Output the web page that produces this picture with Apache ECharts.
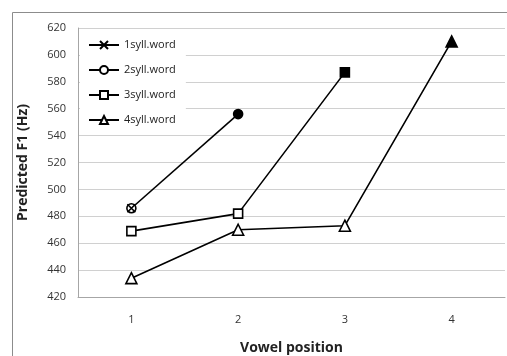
<!DOCTYPE html>
<html>
<head>
<meta charset="utf-8">
<script src="https://cdn.jsdelivr.net/npm/echarts@6/dist/echarts.min.js"></script>
<style>
  html, body { margin: 0; padding: 0; background: #fff; }
  #main { width: 507px; height: 356px; }
</style>
</head>
<body>
<div id="main"></div>
<script>
// vowel positions (x categories)
var positions = ['1', '2', '3', '4'];
// predicted F1 per word length, null where the word has no such vowel
var syll1 = [486, null, null, null];
var syll2 = [486, 556, null, null];
var syll3 = [469, 482, 587, null];
var syll4 = [434, 470, 473, 610];
var seriesNames = ['1syll.word', '2syll.word', '3syll.word', '4syll.word'];
var yTicks = { min: 420, max: 620, step: 20 };

var crossPath = 'path://M0,0L10,10M10,0L0,10';

// last vowel of each word gets a filled marker
function withFilledLast(arr) {
    var last = -1;
    arr.forEach(function (v, i) { if (v !== null) last = i; });
    return arr.map(function (v, i) {
        if (v === null) return null;
        if (i === last && last > 0) return { value: v, itemStyle: { color: '#000' } };
        return v;
    });
}

function makeSeries(name, arr, symbol, size, z) {
    return {
        name: name,
        type: 'line',
        data: withFilledLast(arr),
        symbol: symbol,
        symbolSize: size,
        showAllSymbol: true,
        connectNulls: false,
        z: z,
        lineStyle: { color: '#000', width: 1.6 },
        itemStyle: { color: '#fff', borderColor: '#000', borderWidth: 1.6 },
        emphasis: { disabled: true }
    };
}

var chart = echarts.init(document.getElementById('main'));
var option = {
    animation: false,
    backgroundColor: '#fff',
    textStyle: { fontFamily: '"Open Sans", sans-serif' },
    graphic: [{
        type: 'rect',
        left: 10, top: 10,
        shape: { width: 520, height: 370 },
        style: { fill: 'none', stroke: '#8c8c8c', lineWidth: 1 },
        z: -10
    }],
    grid: { left: 78, right: 2, top: 28, bottom: 59, outerBoundsMode: 'none' },
    legend: {
        orient: 'vertical',
        left: 80, top: 30,
        padding: [8, 10, 8, 8],
        backgroundColor: '#fff',
        itemWidth: 30, itemHeight: 10, itemGap: 11,
        textStyle: { fontSize: 11, color: '#222', lineHeight: 14 },
        data: seriesNames
    },
    xAxis: {
        type: 'category',
        data: positions,
        boundaryGap: true,
        name: 'Vowel position',
        nameLocation: 'middle',
        nameGap: 44,
        nameTextStyle: { fontSize: 14, fontWeight: 'bold', color: '#222' },
        axisLine: { lineStyle: { color: '#a6a6a6' } },
        axisTick: { show: false },
        axisLabel: { fontSize: 11, color: '#333', margin: 17 }
    },
    yAxis: {
        type: 'value',
        min: yTicks.min, max: yTicks.max, interval: yTicks.step,
        name: 'Predicted F1 (Hz)',
        nameLocation: 'middle',
        nameGap: 48,
        nameTextStyle: { fontSize: 14, fontWeight: 'bold', color: '#222' },
        axisLine: { show: true, lineStyle: { color: '#a6a6a6' } },
        axisTick: { show: false },
        axisLabel: { fontSize: 11, color: '#333', margin: 12 },
        splitLine: { lineStyle: { color: '#d0d0d0' } }
    },
    series: [
        makeSeries(seriesNames[1], syll2, 'circle', 9, 2),
        makeSeries(seriesNames[2], syll3, 'rect', 9, 2),
        makeSeries(seriesNames[3], syll4, 'triangle', 11, 2),
        makeSeries(seriesNames[0], syll1, crossPath, 8, 3)
    ]
};
chart.setOption(option);
</script>
</body>
</html>
